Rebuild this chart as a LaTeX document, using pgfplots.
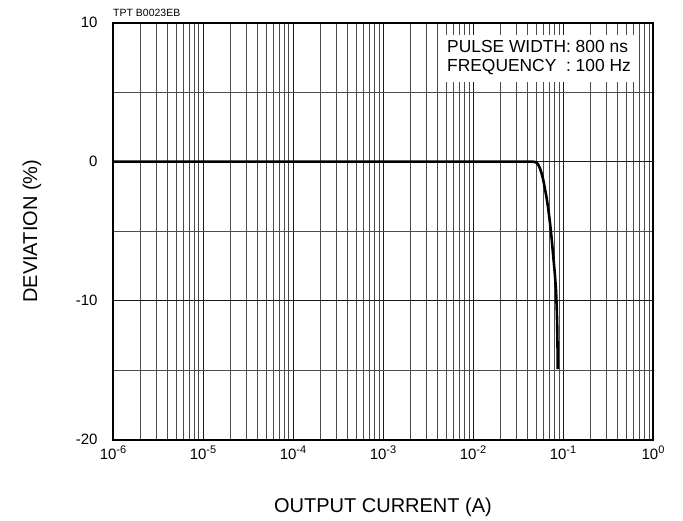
\documentclass[border=0pt]{standalone}
\usepackage{fontspec}
\setmainfont{Liberation Sans}
\usepackage{pgfplots}
\pgfplotsset{compat=1.18}

% power of ten tick label, superscript set in the text font
\newcommand{\pw}[1]{10\raisebox{0.42em}{\fontsize{11}{11}\selectfont #1}}

\begin{document}
\begin{tikzpicture}
\useasboundingbox (-113pt,-80.3pt) rectangle (570pt,439.7pt);
\begin{axis}[
  at={(0,0)}, anchor=south west,
  scale only axis, width=540pt, height=417pt,
  xmode=log, xmin=1e-6, xmax=1,
  ymin=-20, ymax=10,
  xtick={1e-6,1e-5,1e-4,1e-3,1e-2,1e-1,1},
  xticklabels={\pw{-6},\pw{-5},\pw{-4},\pw{-3},\pw{-2},\pw{-1},\pw{0}},
  minor xtick={2e-6,3e-6,4e-6,5e-6,6e-6,7e-6,8e-6,9e-6,
               2e-5,3e-5,4e-5,5e-5,6e-5,7e-5,8e-5,9e-5,
               2e-4,3e-4,4e-4,5e-4,6e-4,7e-4,8e-4,9e-4,
               2e-3,3e-3,4e-3,5e-3,6e-3,7e-3,8e-3,9e-3,
               2e-2,3e-2,4e-2,5e-2,6e-2,7e-2,8e-2,9e-2,
               0.2,0.3,0.4,0.5,0.6,0.7,0.8,0.9},
  ytick={-20,-10,0,10},
  yticklabels={-20,-10,0,10},
  minor ytick={-15,-5,5},
  major tick length=0pt, minor tick length=0pt,
  grid=both,
  major grid style={black!90, line width=0.75pt},
  minor grid style={black!70, line width=0.75pt},
  axis line style={line width=2.2pt},
  ticklabel style={font=\fontsize{15}{17}\selectfont},
  xticklabel style={yshift=-2.5pt},
  yticklabel style={xshift=-12pt},
  xlabel={OUTPUT CURRENT (A)},
  ylabel={DEVIATION (\%)},
  label style={font=\fontsize{20}{24}\selectfont},
  xlabel style={at={(axis description cs:0.5,0)}, anchor=base, yshift=-73pt},
  ylabel style={at={(axis description cs:-0.15,0.5)}, anchor=center},
  clip=false,
]
\addplot[black, line width=2.6pt, line join=round] coordinates {
  (1e-6,0) (1e-4,0) (1e-2,0) (0.046,0) (0.049,-0.02) (0.0511,-0.08)
  (0.053,-0.2) (0.0555,-0.48) (0.058,-0.85) (0.0604,-1.32) (0.063,-1.95)
  (0.0659,-2.63) (0.069,-3.5) (0.0718,-4.43) (0.075,-5.6) (0.078,-6.83)
  (0.081,-8.0) (0.0836,-9.23) (0.0852,-10.5) (0.0863,-11.87)
  (0.087,-13.4) (0.0875,-14.93)
};
\fill[white] (axis cs:0.00464,9.12) rectangle (axis cs:0.664,5.73);
\node[anchor=base west, inner sep=0pt, font=\fontsize{17.4}{20}\selectfont]
  at (axis cs:0.00514,7.87) {PULSE WIDTH: 800 ns};
\node[anchor=base west, inner sep=0pt, font=\fontsize{17.4}{20}\selectfont]
  at (axis cs:0.00514,6.47) {FREQUENCY\ \ : 100 Hz};
\node[anchor=base west, inner sep=0pt, font=\fontsize{10.5}{12}\selectfont]
  at (rel axis cs:0,1) [yshift=6pt] {TPT B0023EB};
\end{axis}
\end{tikzpicture}
\end{document}
